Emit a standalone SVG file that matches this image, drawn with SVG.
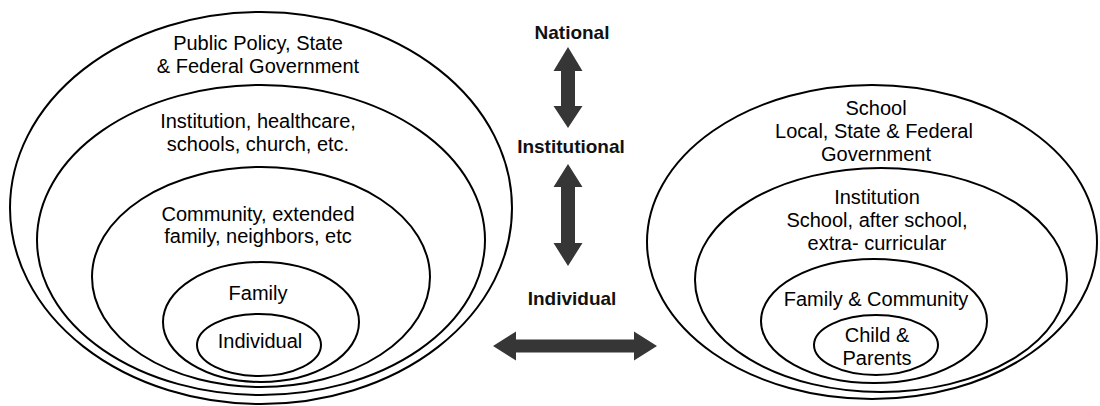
<svg xmlns="http://www.w3.org/2000/svg" width="1100" height="406" viewBox="0 0 1100 406">
<style>
.ring{fill:none;stroke:#000;stroke-width:2}
.t{font-family:"Liberation Sans",Arial,sans-serif;font-size:20px;fill:#000;text-anchor:middle}
.b{font-family:"Liberation Sans",Arial,sans-serif;font-size:19px;font-weight:bold;fill:#111;text-anchor:middle}
.arr{fill:#363636;stroke:none}
</style>
<rect width="1100" height="406" fill="#fff"/>
<g id="left-model">
  <g id="l-policy">
    <ellipse class="ring" cx="261" cy="208" rx="251" ry="196"/>
    <text class="t" x="258" y="50">Public Policy, State</text>
    <text class="t" x="258" y="73">&amp; Federal Government</text>
  </g>
  <g id="l-institution">
    <ellipse class="ring" cx="261" cy="240" rx="224" ry="155"/>
    <text class="t" x="258" y="128">Institution, healthcare,</text>
    <text class="t" x="258" y="151">schools, church, etc.</text>
  </g>
  <g id="l-community">
    <ellipse class="ring" cx="261" cy="277" rx="169" ry="110"/>
    <text class="t" x="258" y="221">Community, extended</text>
    <text class="t" x="258" y="243">family, neighbors, etc</text>
  </g>
  <g id="l-family">
    <ellipse class="ring" cx="261" cy="322" rx="98" ry="60"/>
    <text class="t" x="258" y="300">Family</text>
  </g>
  <g id="l-individual">
    <ellipse class="ring" cx="259" cy="345" rx="62" ry="31"/>
    <text class="t" x="260" y="348">Individual</text>
  </g>
</g>
<g id="right-model">
  <g id="r-school">
    <ellipse class="ring" cx="872" cy="242" rx="225" ry="157"/>
    <text class="t" x="876" y="115">School</text>
    <text class="t" x="874" y="138">Local, State &amp; Federal</text>
    <text class="t" x="876" y="161">Government</text>
  </g>
  <g id="r-institution">
    <ellipse class="ring" cx="881" cy="280" rx="186" ry="112"/>
    <text class="t" x="877" y="204">Institution</text>
    <text class="t" x="877" y="227">School, after school,</text>
    <text class="t" x="877" y="250">extra- curricular</text>
  </g>
  <g id="r-family">
    <ellipse class="ring" cx="874" cy="321" rx="113" ry="62"/>
    <text class="t" x="876" y="306">Family &amp; Community</text>
  </g>
  <g id="r-child">
    <ellipse class="ring" cx="876" cy="345" rx="62" ry="30"/>
    <text class="t" x="877" y="342">Child &amp;</text>
    <text class="t" x="877" y="365">Parents</text>
  </g>
</g>
<g id="labels">
  <text class="b" x="572" y="39">National</text>
  <text class="b" x="571" y="153">Institutional</text>
  <text class="b" x="572" y="305">Individual</text>
</g>
<g id="connectors">
  <polygon class="arr" points="568,47 582.5,71 575,71 575,106 582.5,106 568,128 553.5,106 561,106 561,71 553.5,71"/>
  <polygon class="arr" points="568,164 582.5,187 575,187 575,243 582.5,243 568,266 553.5,243 561,243 561,187 553.5,187"/>
  <polygon class="arr" points="493,346 516,331.5 516,339.5 634,339.5 634,331.5 657,346 634,360.5 634,352.5 516,352.5 516,360.5"/>
</g>
</svg>
